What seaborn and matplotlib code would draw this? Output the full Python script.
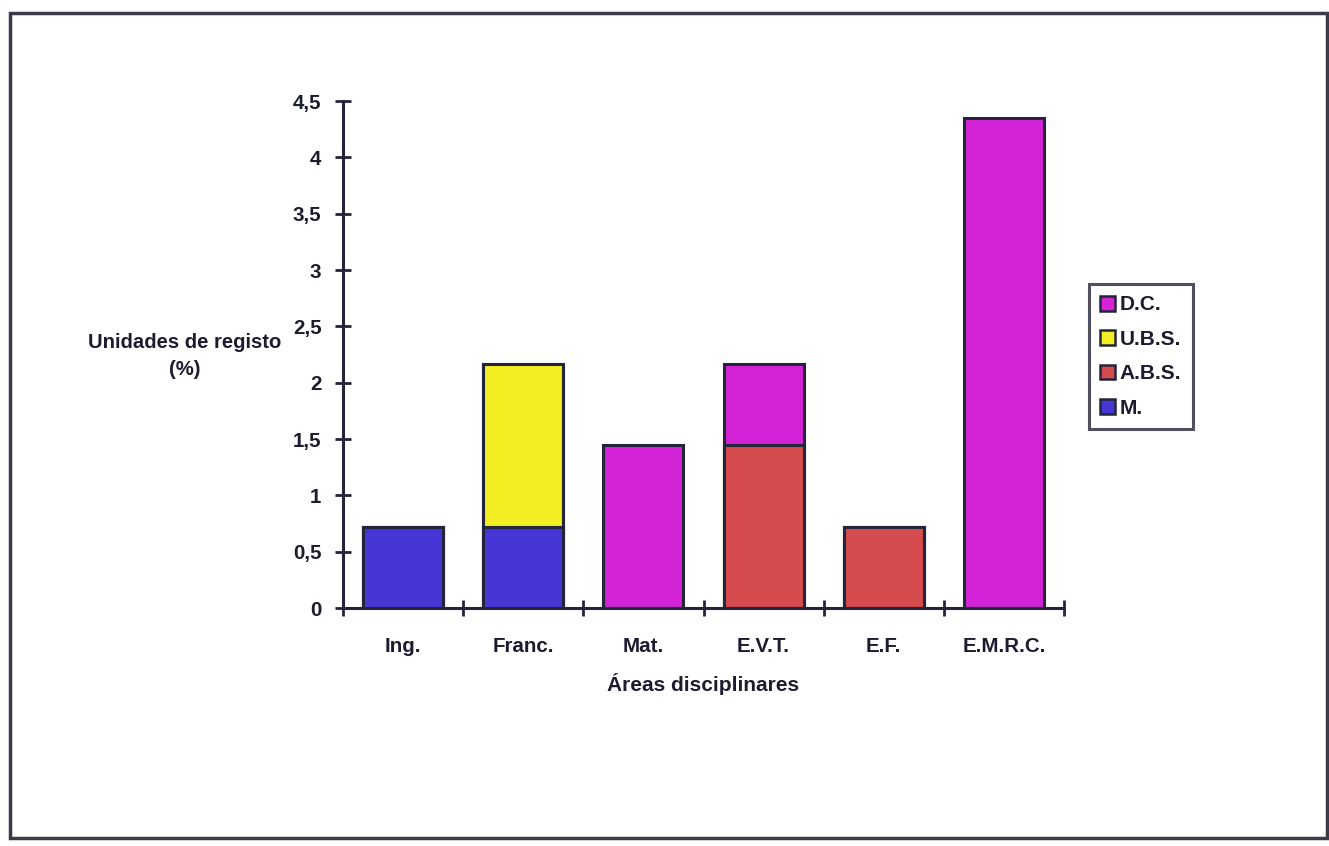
import matplotlib
matplotlib.use("Agg")
import matplotlib.pyplot as plt
from matplotlib.patches import Rectangle
from matplotlib.ticker import FixedLocator, FixedFormatter
import seaborn as sns
import pandas as pd
import numpy as np

# Áreas disciplinares and their share of unidades de registo (%) per category
areas = ["Ing.", "Franc.", "Mat.", "E.V.T.", "E.F.", "E.M.R.C."]
m_vals = [0.72, 0.72, 0.0, 0.0, 0.0, 0.0]      # M.
abs_vals = [0.0, 0.0, 0.0, 1.45, 0.72, 0.0]    # A.B.S.
ubs_vals = [0.0, 1.45, 0.0, 0.0, 0.0, 0.0]     # U.B.S.
dc_vals = [0.0, 0.0, 1.45, 0.72, 0.0, 4.35]    # D.C.

y_ticks = [0, 0.5, 1, 1.5, 2, 2.5, 3, 3.5, 4, 4.5]
y_tick_labels = ["0", "0,5", "1", "1,5", "2", "2,5", "3", "3,5", "4", "4,5"]

series_names = ["M.", "A.B.S.", "U.B.S.", "D.C."]
series_vals = [m_vals, abs_vals, ubs_vals, dc_vals]
colors = {"M.": "#4636D6", "A.B.S.": "#D54B4E", "U.B.S.": "#F3EE22", "D.C.": "#D422D6"}

sns.set_theme(style="white")
plt.rcParams["font.family"] = ["Liberation Sans", "DejaVu Sans"]
plt.rcParams["font.weight"] = "bold"
text_color = "#1c1c30"
edge = "#24243a"

fig = plt.figure(figsize=(13.29, 8.46), dpi=100)
ax = fig.add_axes([343 / 1329, 1 - 608 / 846, (1064 - 343) / 1329, (608 - 101) / 846])

# Stacked bars: draw cumulative totals from the top layer down
cum = np.cumsum(np.array(series_vals), axis=0)
for i in range(len(series_names) - 1, -1, -1):
    name = series_names[i]
    df = pd.DataFrame({"area": areas, "value": cum[i]})
    sns.barplot(data=df, x="area", y="value", order=areas, color=colors[name],
                saturation=1, width=0.667, edgecolor=edge, linewidth=2.2,
                ax=ax, zorder=2)

ax.set_xlim(-0.5, 5.5)
ax.set_ylim(0, 4.5)

ax.yaxis.set_major_locator(FixedLocator(y_ticks))
ax.yaxis.set_major_formatter(FixedFormatter(y_tick_labels))
ax.set_xticks(range(len(areas)))
ax.set_xticklabels(areas)
ax.set_xticks(np.arange(-0.5, len(areas), 1.0), minor=True)

ax.tick_params(axis="y", which="major", direction="inout", length=12, width=2,
               color=edge, labelsize=14.8, labelcolor=text_color, pad=9.5, left=True)
ax.tick_params(axis="x", which="major", length=0, labelsize=14.8,
               labelcolor=text_color, pad=21)
ax.tick_params(axis="x", which="minor", direction="inout", length=12, width=2,
               color=edge, bottom=True)
for lab in ax.get_xticklabels() + ax.get_yticklabels():
    lab.set_fontweight("bold")

for side in ["top", "right"]:
    ax.spines[side].set_visible(False)
for side in ["left", "bottom"]:
    ax.spines[side].set_color(edge)
    ax.spines[side].set_linewidth(2.2)
ax.grid(False)

ax.set_xlabel("Áreas disciplinares", fontsize=15, fontweight="bold",
              color=text_color, labelpad=12)
ax.set_ylabel("Unidades de registo\n(%)", fontsize=14.6, fontweight="bold",
              color=text_color, rotation=0, ha="center", va="center",
              linespacing=1.55)
ax.yaxis.set_label_coords(-0.219, 0.497)

# Legend, top layer listed first
handles = [Rectangle((0, 0), 1, 1, facecolor=colors[n], edgecolor=edge, linewidth=1.8)
           for n in reversed(series_names)]
leg = fig.legend(handles, list(reversed(series_names)), loc="upper left",
                 bbox_to_anchor=(1089 / 1329, 1 - 284 / 846),
                 frameon=True, fancybox=False, fontsize=15, handlelength=0.72,
                 handleheight=0.72, handletextpad=0.2, labelspacing=0.74,
                 borderpad=0.55, borderaxespad=0)
leg.get_frame().set_edgecolor(edge)
leg.get_frame().set_linewidth(2.2)
for t in leg.get_texts():
    t.set_fontweight("bold")
    t.set_color(text_color)

# Outer frame around the chart area
fig.patches.append(Rectangle((10 / 1329, 1 - 838 / 846), 1317 / 1329, 825 / 846,
                             transform=fig.transFigure, fill=False,
                             edgecolor="#3a3a48", linewidth=2.5))

fig.savefig("out.png", dpi=100, facecolor="white")
